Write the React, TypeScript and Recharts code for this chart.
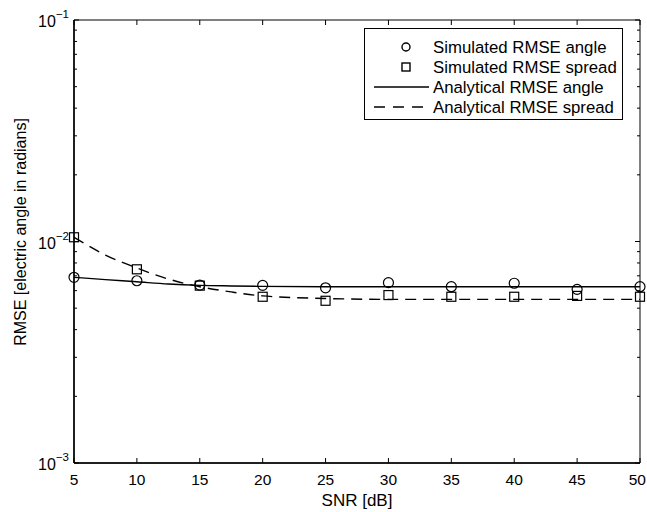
import {
    ComposedChart, Line, Scatter, XAxis, YAxis, Legend, ReferenceArea
} from 'recharts'

const snrTicks = [5, 10, 15, 20, 25, 30, 35, 40, 45, 50]

// simulated points (markers)
const simSnr = [5, 10, 15, 20, 25, 30, 35, 40, 45, 50]
const simAngle = [0.00689, 0.00665, 0.00636, 0.00634, 0.00618, 0.00652, 0.00625, 0.00648, 0.00608, 0.00625]
const simSpread = [0.01045, 0.00749, 0.00632, 0.00563, 0.0054, 0.00573, 0.00563, 0.00563, 0.00568, 0.00563]

// analytical curves
const curveSnr = [5, 7.5, 10, 12.5, 15, 17.5, 20, 25, 30, 35, 40, 45, 50]
const curveAngle = [0.00689, 0.00673, 0.00658, 0.00643, 0.00634, 0.0063, 0.00627, 0.00625, 0.00625, 0.00625, 0.00625, 0.00625, 0.00625]
const curveSpread = [0.01045, 0.00869, 0.00759, 0.00677, 0.00625, 0.00592, 0.00568, 0.00553, 0.00548, 0.00548, 0.00548, 0.00548, 0.00548]

const rmseTicks = [
    0.001, 0.002, 0.003, 0.004, 0.005, 0.006, 0.007, 0.008, 0.009,
    0.01, 0.02, 0.03, 0.04, 0.05, 0.06, 0.07, 0.08, 0.09, 0.1,
]

const legendItems = [
    'Simulated RMSE angle',
    'Simulated RMSE spread',
    'Analytical RMSE angle',
    'Analytical RMSE spread',
]

const FONT = '"Liberation Sans", Arial, Helvetica, sans-serif'
const PLOT_L = 74
const PLOT_R = 640
const PLOT_T = 20
const PLOT_B = 463
const PAGE_W = 647

const simAngleData = simSnr.map((snr, i) => ({ snr, rmse: simAngle[i] }))
const simSpreadData = simSnr.map((snr, i) => ({ snr, rmse: simSpread[i] }))
const angleCurveData = curveSnr.map((snr, i) => ({ snr, rmse: curveAngle[i] }))
const spreadCurveData = curveSnr.map((snr, i) => ({ snr, rmse: curveSpread[i] }))

function isDecade(v: number) {
    const l = Math.log10(v)
    return Math.abs(l - Math.round(l)) < 1e-9
}

function XTick(props: any) {
    const { x, payload } = props
    // keep the last label inside the page, like the original
    const nearEdge = x + 9 > PAGE_W
    return (
        <g>
            <line x1={x} x2={x} y1={PLOT_B} y2={PLOT_B - 5} stroke='#000' />
            <line x1={x} x2={x} y1={PLOT_T} y2={PLOT_T + 5} stroke='#000' />
            <text
                x={nearEdge ? PAGE_W - 1 : x}
                y={485}
                textAnchor={nearEdge ? 'end' : 'middle'}
                fontSize={15.5}
                fontFamily={FONT}
                fill='#000'
            >
                {payload.value}
            </text>
        </g>
    )
}

function YTick(props: any) {
    const { y, payload } = props
    const major = isDecade(payload.value)
    const len = major ? 5 : 3
    const exp = Math.round(Math.log10(payload.value))
    return (
        <g>
            <line x1={PLOT_L} x2={PLOT_L + len} y1={y} y2={y} stroke='#000' />
            <line x1={PLOT_R - len} x2={PLOT_R} y1={y} y2={y} stroke='#000' />
            {major && (
                <text x={69} y={y + 7} textAnchor='end' fontSize={16} fontFamily={FONT} fill='#000'>
                    <tspan>10</tspan>
                    <tspan dy={-9} fontSize={11.5}>{'\u2212' + Math.abs(exp)}</tspan>
                </text>
            )}
        </g>
    )
}

function CircleMark(props: any) {
    const { cx, cy } = props
    return <circle cx={cx} cy={cy} r={5} fill='none' stroke='#000' strokeWidth={1.2} />
}

function SquareMark(props: any) {
    const { cx, cy } = props
    return <rect x={cx - 4.5} y={cy - 4.5} width={9} height={9} fill='none' stroke='#000' strokeWidth={1.2} />
}

function LegendBox() {
    const rowY = [46, 66, 86, 106].map(v => v - 28)
    return (
        <div style={{ width: 259, height: 92, border: '1px solid #000', background: '#fff', boxSizing: 'border-box' }}>
            <svg width={257} height={90} style={{ display: 'block' }}>
                <circle cx={41} cy={rowY[0]} r={4} fill='none' stroke='#000' strokeWidth={1.4} />
                <rect x={37} y={rowY[1] - 4} width={8} height={8} fill='none' stroke='#000' strokeWidth={1.4} />
                <line x1={9} x2={64} y1={rowY[2]} y2={rowY[2]} stroke='#000' strokeWidth={1.4} />
                <line x1={9} x2={64} y1={rowY[3]} y2={rowY[3]} stroke='#000' strokeWidth={1.4} strokeDasharray='11 8' />
                {legendItems.map((t, i) => (
                    <text key={t} x={68} y={rowY[i] + 6} fontSize={16.8} fontFamily={FONT} fill='#000'>{t}</text>
                ))}
            </svg>
        </div>
    )
}

export default function App() {
    return (
        <div style={{ position: 'absolute', left: 0, top: 0, background: '#fff' }}>
            <ComposedChart
                width={PAGE_W}
                height={512}
                margin={{ top: PLOT_T, right: PAGE_W - PLOT_R, bottom: 0, left: 0 }}
            >
                <XAxis
                    type='number'
                    dataKey='snr'
                    domain={[5, 50]}
                    ticks={snrTicks}
                    interval={0}
                    height={512 - PLOT_B}
                    axisLine={{ stroke: '#000', strokeWidth: 1.5 }}
                    tickLine={false}
                    tick={<XTick />}
                    label={() => (
                        <text x={(PLOT_L + PLOT_R) / 2} y={506} textAnchor='middle' fontSize={17} fontFamily={FONT} fill='#000'>
                            SNR [dB]
                        </text>
                    )}
                />
                <YAxis
                    type='number'
                    scale='log'
                    domain={[0.001, 0.1]}
                    allowDataOverflow
                    ticks={rmseTicks}
                    interval={0}
                    width={PLOT_L}
                    axisLine={{ stroke: '#000', strokeWidth: 1.5 }}
                    tickLine={false}
                    tick={<YTick />}
                    label={() => (
                        <text
                            x={20}
                            y={232}
                            transform='rotate(-90 20 232)'
                            textAnchor='middle'
                            dominantBaseline='central'
                            fontSize={16}
                            fontFamily={FONT}
                            fill='#000'
                        >
                            RMSE [electric angle in radians]
                        </text>
                    )}
                />
                <ReferenceArea x1={5} x2={50} y1={0.001} y2={0.1} fill='none' stroke='#000' strokeWidth={1} />
                <Line
                    data={angleCurveData}
                    dataKey='rmse'
                    type='monotone'
                    stroke='#000'
                    strokeWidth={1.4}
                    dot={false}
                    isAnimationActive={false}
                />
                <Line
                    data={spreadCurveData}
                    dataKey='rmse'
                    type='monotone'
                    stroke='#000'
                    strokeWidth={1.4}
                    strokeDasharray='11 7'
                    dot={false}
                    isAnimationActive={false}
                />
                <Scatter data={simAngleData} dataKey='rmse' shape={<CircleMark />} isAnimationActive={false} />
                <Scatter data={simSpreadData} dataKey='rmse' shape={<SquareMark />} isAnimationActive={false} />
                <Legend
                    layout='vertical'
                    align='center'
                    verticalAlign='middle'
                    content={() => <LegendBox />}
                    wrapperStyle={{ left: 364, top: 28, width: 259, height: 92 }}
                />
            </ComposedChart>
        </div>
    )
}
